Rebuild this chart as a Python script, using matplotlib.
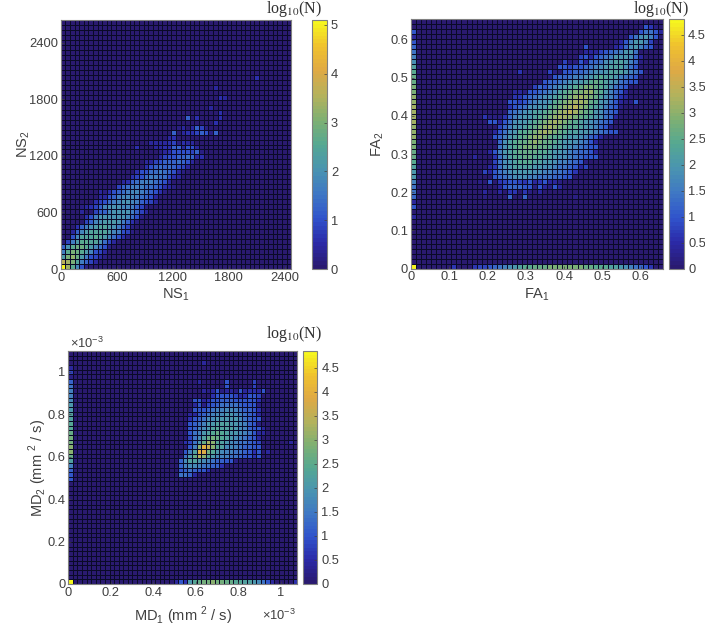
import numpy as np
import matplotlib
matplotlib.use('Agg')
import matplotlib.pyplot as plt
from matplotlib.colors import LinearSegmentedColormap

plt.rcParams['font.family'] = ['Liberation Sans', 'DejaVu Sans']
plt.rcParams['mathtext.fontset'] = 'custom'
plt.rcParams['mathtext.rm'] = 'Liberation Sans'

W, H = 705, 628
GREY = '#404040'

# each character is log10(N) in steps of 0.2 (0=0, 5=1, a=2, f=3, k=4, p=5)
# row: (first column, characters)
NS_ROWS = {
    0: (0, "qhd951"),
    1: (0, "ihfc8642"),
    2: (0, "bfgeb85421"),
    3: (0, "8dfedb9542"),
    4: (0, "6adeedb97510"),
    5: (1, "48bddcca742"),
    6: (2, "59cccdcb97531"),
    7: (2, "269bccccb985410"),
    8: (3, "368abccba86410"),
    9: (5, "469abbba8631"),
    10: (5, "358aaaaaa9751"),
    11: (4, "2004669aaaa8642"),
    12: (4, "123469aaa9986410"),
    13: (7, "34578 9aa986542".replace(' ', '')),
    14: (8, "2256899987652"),
    15: (8, "2135678998765310"),
    16: (12, "4678887765321"),
    17: (13, "23678887652"),
    18: (15, "34578877532"),
    19: (16, "355778765 21".replace(' ', '')),
    20: (18, "3567676542"),
    21: (18, "22456667652"),
    22: (21, "2455667623"),
    23: (21, "1235555461"),
    24: (16, "30002233662552"),
    25: (19, "2222341322"),
    26: (23, "23"),
    27: (24, "6023346516"),
    28: (25, "12026410"),
    29: (33, "3"),
    30: (27, "60300003"),
    31: (34, "3"),
    32: (32, "2"),
    34: (34, "32"),
    36: (33, "2"),
    38: (42, "3"),
}

FA_LEFT = {10: 2, 12: 5, 13: 2, 14: 6, 15: 7, 16: 7, 17: 8, 18: 'a', 19: 'a', 20: 'b', 21: 'c',
           22: 'd', 23: 'd', 24: 'e', 25: 'e', 26: 'f', 27: 'f', 28: 'f', 29: 'g', 30: 'g',
           31: 'g', 32: 'g', 33: 'f', 34: 'f', 35: 'e', 36: 'e', 37: 'd', 38: 'd', 39: 'c',
           40: 'b', 41: 9, 42: 8, 43: 7, 44: 6, 45: 5, 46: 2, 47: 5}
FA_BOTTOM = (8, "300034456789abccdddeeeeeeeddcccbba987653")
FA_CORNER = 4.8
FA_ROWS = {
    14: (14, "1000060060000000001"),
    15: (14, "20020330310200"),
    16: (17, "2566655152152"),
    17: (13, "10503455435235221"),
    18: (16, "5678999887776655"),
    19: (14, "425789aaaa998877653"),
    20: (15, "2379abbbbaa998776524"),
    21: (16, "479abcccbbaa9887651"),
    22: (12, "2000379bccddccbba99876555"),
    23: (15, "258abcddddccbaa9876652"),
    24: (17, "79bcdeeeddcbba987655"),
    25: (17, "69bcddefeddcbaa98752"),
    26: (16, "568abcdeffedccbaa98652"),
    27: (16, "2579accdefgfedcbbaa987655"),
    28: (17, "468aabcdefgfedccba98651"),
    29: (15, "552579aabcdefgfedcba98765"),
    30: (14, "3111368 9aabcdefggfedcba9762".replace(' ', '')),
    31: (19, "6789abbcdefghgedca9765"),
    32: (19, "356799aacdefghfecba8651"),
    33: (19, "55457899acdefggfdca97521 15".replace(' ', '')),
    34: (20, "3356789abcdefgfedb98632"),
    35: (20, "221556789bcdeeffdca8652"),
    36: (24, "465789abcdeedcb9765"),
    37: (26, "566789aabcdcba97655"),
    38: (27, "15667889abcbba8765"),
    39: (21, "30000041055667899abbba875"),
    40: (29, "554556789abbb975"),
    41: (30, "41152667 9abba861".replace(' ', '')),
    42: (33, "4525678aaa962"),
    43: (34, "22245678aa7"),
    44: (34, "5000002369a865"),
    45: (40, "1258aa84"),
    46: (43, "579a85"),
    47: (45, "57752"),
    48: (46, "531"),
}

MD_LEFT = {22: 5, 23: 5, 24: 6, 25: 8, 26: 'b', 27: 'd', 28: 'f', 29: 'f', 30: 'e', 31: 'e',
           32: 'd', 33: 'c', 34: 'c', 35: 'b', 36: 'b', 37: 'a', 38: 'a', 39: 9, 40: 8,
           41: 8, 42: 7, 43: 6, 44: 1, 45: 4, 46: 2}
MD_BOTTOM = (23, "253acdeefeeddccbba975200003")
MD_CORNER = 4.8
MD_ROWS = {
    23: (24, "7762"),
    24: (24, "5676553"),
    25: (24, "6899877663"),
    26: (24, "69bba987665 51".replace(' ', '')),
    27: (25, "7adhfca9887765535"),
    28: (25, "58bkjeca98877653502"),
    29: (26, "58fkifcb99876655"),
    30: (25, "347adgfcba98776540000002"),
    31: (26, "479bdedcba987652"),
    32: (26, "578abcdcbaa987522"),
    33: (26, "5689abcbbba986552"),
    34: (26, "5678aabbbaa98651"),
    35: (26, "356799aaaaa97655"),
    36: (26, "22567899aa987652"),
    37: (27, "555678899876653"),
    38: (27, "251456777765551"),
    39: (27, "552355666555553"),
    40: (31, "35555423554"),
    41: (29, "21251221523325"),
    42: (34, "5000004"),
    43: (28, "2000005000004"),
    47: (29, "2"),
}

parula_colors = ['#2a1a70', '#2b2aa8', '#3054cc', '#3f78c4', '#4a94b0', '#55a892',
                 '#7fb072', '#b4b25c', '#dfa945', '#f0c22e', '#f6f61e']
parula = LinearSegmentedColormap.from_list('parula_like', parula_colors, N=64)


def code_value(c):
    return int(str(c), 36) * 0.2


def build_grid(rows, left=None, bottom=None, corner=None):
    z = np.zeros((50, 50))
    for r, (start, chars) in rows.items():
        for i, c in enumerate(chars):
            z[r, start + i] = code_value(c)
    if left:
        for r, c in left.items():
            z[r, 0] = code_value(c)
    if bottom:
        for i, c in enumerate(bottom[1]):
            z[0, bottom[0] + i] = code_value(c)
    if corner:
        z[0, 0] = corner
    return z


def px_axes(x0, x1, y0, y1):
    return plt.axes([x0 / W, 1 - y1 / H, (x1 - x0) / W, (y1 - y0) / H])


def panel(box, cbox, z, xmax, ymax, vmax, xticks, yticks, cticks, xlabel, ylabel, xticklabels=None, yticklabels=None,
          ctitle_xy=(0, 0), xpad=2, ypad=3):
    ax = px_axes(*box)
    xe = np.linspace(0, xmax, 51)
    ye = np.linspace(0, ymax, 51)
    m = ax.pcolormesh(xe, ye, z, cmap=parula, vmin=0, vmax=vmax, edgecolors='#0a0a28', linewidth=0.45)
    ax.set_xlim(0, xmax)
    ax.set_ylim(0, ymax)
    ax.set_xticks(xticks)
    ax.set_yticks(yticks)
    ax.set_xticklabels(xticklabels if xticklabels else [str(t) for t in xticks])
    ax.set_yticklabels(yticklabels if yticklabels else [str(t) for t in yticks])
    ax.tick_params(direction='in', length=2, width=0.5, labelsize=9.3, colors=GREY, pad=2)
    for s in ax.spines.values():
        s.set_color('#808080')
        s.set_linewidth(0.8)
    ax.set_xlabel(xlabel, fontsize=10.5, color=GREY, labelpad=xpad)
    ax.set_ylabel(ylabel, fontsize=10.5, color=GREY, labelpad=ypad)

    cax = px_axes(*cbox)
    cb = plt.colorbar(m, cax=cax)
    cb.set_ticks(cticks)
    cb.set_ticklabels(['%g' % t for t in cticks])
    cb.ax.tick_params(direction='in', length=2, width=0.5, labelsize=9.3, colors=GREY, pad=3)
    cb.outline.set_edgecolor('#808080')
    cb.outline.set_linewidth(0.8)
    plt.figtext(ctitle_xy[0] / W, 1 - ctitle_xy[1] / H, 'log$_{10}$(N)', ha='center', va='center',
                fontsize=11.5, color='#303030', family='Liberation Serif', math_fontfamily='stix')
    return ax


fig = plt.figure(figsize=(W / 100, H / 100), dpi=100)

panel((60.7, 291.3, 20, 269), (311.7, 326.7, 20, 269), build_grid(NS_ROWS), 2468, 2640, 5.1,
      [0, 600, 1200, 1800, 2400], [0, 600, 1200, 1800, 2400], [0, 1, 2, 3, 4, 5],
      'NS$_1$', 'NS$_2$', ctitle_xy=(294, 9), ypad=-2)

panel((411, 663.3, 19, 268.5), (669.3, 684, 19, 268.5), build_grid(FA_ROWS, FA_LEFT, FA_BOTTOM, FA_CORNER),
      0.659, 0.654, 4.8,
      [0, 0.1, 0.2, 0.3, 0.4, 0.5, 0.6], [0, 0.1, 0.2, 0.3, 0.4, 0.5, 0.6],
      [0, 0.5, 1, 1.5, 2, 2.5, 3, 3.5, 4, 4.5],
      'FA$_1$', 'FA$_2$', ctitle_xy=(661, 9))

panel((68.3, 297.3, 351, 584), (303.3, 317.3, 351, 584), build_grid(MD_ROWS, MD_LEFT, MD_BOTTOM, MD_CORNER),
      1.078e-3, 1.097e-3, 4.85,
      [0, 0.2e-3, 0.4e-3, 0.6e-3, 0.8e-3, 1e-3], [0, 0.2e-3, 0.4e-3, 0.6e-3, 0.8e-3, 1e-3],
      [0, 0.5, 1, 1.5, 2, 2.5, 3, 3.5, 4, 4.5],
      'MD$_1$ (mm $^2$ / s)', 'MD$_2$ (mm $^2$ / s)',
      xticklabels=['0', '0.2', '0.4', '0.6', '0.8', '1'], yticklabels=['0', '0.2', '0.4', '0.6', '0.8', '1'],
      ctitle_xy=(294, 334), xpad=4, ypad=-1)

plt.figtext(70 / W, 1 - 343 / H, r'$\times$10$^{-3}$', fontsize=9.3, color=GREY, ha='left', va='center')
plt.figtext(262 / W, 1 - 615 / H, r'$\times$10$^{-3}$', fontsize=9.3, color=GREY, ha='left', va='center')

plt.savefig('out.png', dpi=100)
